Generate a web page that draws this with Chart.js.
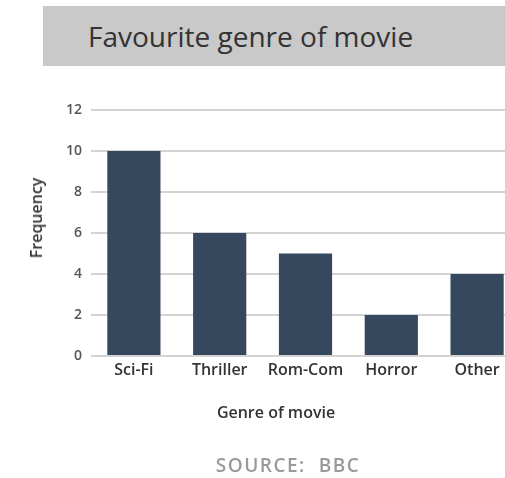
<!DOCTYPE html>
<html>
<head>
<meta charset="utf-8">
<script src="https://cdn.jsdelivr.net/npm/chart.js@4/dist/chart.umd.min.js"></script>
<style>
    body { margin: 0; background: #fff; width: 505px; height: 478px; overflow: hidden; font-family: 'Open Sans', sans-serif; }
    #wrap { position: relative; width: 505px; height: 478px; overflow: hidden; }
    #chart-box { position: absolute; left: 0; top: 0; width: 520px; height: 478px; }
    .title-bar { position: absolute; left: 43px; top: 6px; width: 470px; height: 60px; background: #c9c9c9; }
    .title-bar span { position: absolute; left: 45px; top: 11px; font-size: 28px; color: #333; white-space: nowrap; }
    .y-title { position: absolute; left: 36px; top: 218px; transform: translate(-50%, -50%) rotate(-90deg); font-size: 16px; font-weight: 600; color: #333; white-space: nowrap; }
    .x-title { position: absolute; left: 276px; top: 412px; transform: translate(-50%, -50%); font-size: 16px; font-weight: 600; color: #333; white-space: nowrap; }
    .source { position: absolute; left: 288px; top: 465px; transform: translate(-50%, -50%); font-size: 19px; font-weight: 600; color: #9a9a9a; letter-spacing: 1.5px; white-space: nowrap; }
</style>
</head>
<body>
<div id="wrap">
    <div id="chart-box"><canvas id="genreChart"></canvas></div>
    <div class="title-bar"><span>Favourite genre of movie</span></div>
    <div class="y-title">Frequency</div>
    <div class="x-title">Genre of movie</div>
    <div class="source">SOURCE:&nbsp; BBC</div>
</div>
<script>
    // Data grafik
    const genres = ['Sci-Fi', 'Thriller', 'Rom-Com', 'Horror', 'Other'];
    const frequency = [10, 6, 5, 2, 4];
    const yTicks = [0, 2, 4, 6, 8, 10, 12];

    const ctx = document.getElementById('genreChart');
    new Chart(ctx.getContext('2d'), {
        type: 'bar',
        data: {
            labels: genres,
            datasets: [{
                data: frequency,
                backgroundColor: '#36485e',
                borderWidth: 0,
                barPercentage: 0.62,
                categoryPercentage: 1
            }]
        },
        options: {
            responsive: true, maintainAspectRatio: false,
            animation: false,
            layout: { padding: { top: 110, left: 0, right: 0, bottom: 0 } },
            plugins: { legend: { display: false }, tooltip: { enabled: false } },
            scales: {
                x: {
                    afterFit: (s) => { s.height = 122; },
                    grid: { display: false, drawTicks: false },
                    border: { display: false },
                    ticks: { padding: 5, color: '#333', font: { size: 16, weight: '600', family: 'Open Sans' } }
                },
                y: {
                    min: 0, max: 12,
                    afterFit: (s) => { s.width = 91; },
                    afterBuildTicks: (s) => { s.ticks = yTicks.map(v => ({ value: v })); },
                    grid: { color: '#d3d3d3', lineWidth: 2, drawTicks: false },
                    border: { display: false },
                    ticks: { padding: 9, color: '#555', font: { size: 14, weight: '600', family: 'Open Sans' } }
                }
            }
        }
    });
</script>
</body>
</html>
